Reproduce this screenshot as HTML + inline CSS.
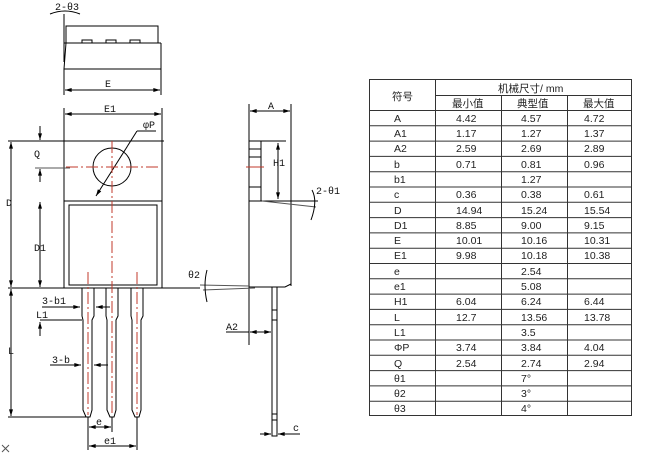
<!DOCTYPE html>
<html><head><meta charset="utf-8"><style>
html,body{margin:0;padding:0;background:#fff;}
svg{display:block;}
text{font-family:"Liberation Mono","DejaVu Sans Mono",monospace;font-size:10px;fill:#111;}
.t{font-family:"Liberation Sans","Noto Sans CJK SC",sans-serif;font-size:10.5px;fill:#222;}
</style></head><body>
<svg width="650" height="455" viewBox="0 0 650 455" xmlns="http://www.w3.org/2000/svg">
<defs>
<marker id="a" viewBox="0 0 10 6" refX="10" refY="3" markerWidth="7" markerHeight="4" orient="auto-start-reverse"><path d="M0,0L10,3L0,6z" fill="#000"/></marker>
</defs>
<g stroke="#000" stroke-width="1" fill="none">
<!-- top view -->
<line x1="64" y1="14" x2="64" y2="62"/>
<polyline points="66,43 66,26 158,26 158,43"/>
<line x1="64" y1="43" x2="161" y2="43"/>
<polyline points="66,43 64,69 161,69 161,43"/>
<rect x="82" y="40" width="10" height="3"/><rect x="106" y="40" width="10" height="3"/><rect x="130" y="40" width="10" height="3"/>
<line x1="64" y1="69" x2="64" y2="95"/><line x1="161" y1="69" x2="161" y2="95"/>
<line x1="65" y1="90" x2="160" y2="90" marker-start="url(#a)" marker-end="url(#a)"/>
<path d="M50,14 Q65,8 80,14"/>
<!-- front view -->
<line x1="64" y1="108" x2="64" y2="288"/><line x1="162" y1="108" x2="162" y2="288"/>
<line x1="65" y1="114" x2="161" y2="114" marker-start="url(#a)" marker-end="url(#a)"/>
<line x1="8" y1="141" x2="164" y2="141"/>
<circle cx="112" cy="167" r="19"/>
<line x1="96" y1="196" x2="137" y2="131" marker-start="url(#a)"/>
<line x1="137" y1="131" x2="156" y2="131"/>
<line x1="64" y1="201" x2="162" y2="201"/>
<rect x="69" y="205" width="88" height="80"/>
<line x1="8" y1="288" x2="200" y2="288"/>
<!-- Q, D1 -->
<line x1="40" y1="126" x2="40" y2="140" marker-end="url(#a)"/>
<line x1="35" y1="168" x2="70" y2="168" stroke="#555"/>
<line x1="40" y1="182" x2="40" y2="169" marker-end="url(#a)"/>
<line x1="40" y1="202" x2="40" y2="287" marker-start="url(#a)" marker-end="url(#a)"/>
<line x1="11" y1="142" x2="11" y2="287" marker-start="url(#a)" marker-end="url(#a)"/>
<line x1="11" y1="289" x2="11" y2="416" marker-start="url(#a)" marker-end="url(#a)"/>
<line x1="8" y1="417" x2="88" y2="417"/>
<!-- leads -->
<g>
<path d="M82,288V316L83,320V410L86,417H90L92,410V320L94,316V288"/>
<path d="M106,288V316L107,320V410L110,417H114L116,410V320L118,316V288"/>
<path d="M131,288V316L132,320V410L135,417H139L141,410V320L143,316V288"/>
</g>
<line x1="42" y1="307" x2="80" y2="307" marker-end="url(#a)"/>
<line x1="110" y1="307" x2="96" y2="307" marker-end="url(#a)"/>
<line x1="40" y1="320" x2="82" y2="320"/>
<line x1="40" y1="336" x2="40" y2="322" marker-end="url(#a)"/>
<line x1="50" y1="365" x2="81" y2="365" marker-end="url(#a)"/>
<line x1="108" y1="365" x2="94" y2="365" marker-end="url(#a)"/>
<line x1="88" y1="417" x2="88" y2="450"/><line x1="112" y1="417" x2="112" y2="432"/><line x1="137" y1="417" x2="137" y2="450"/>
<line x1="89" y1="427" x2="111" y2="427" marker-start="url(#a)" marker-end="url(#a)"/>
<line x1="89" y1="446" x2="136" y2="446" marker-start="url(#a)" marker-end="url(#a)"/>
<!-- side view -->
<line x1="249" y1="104" x2="249" y2="345"/><line x1="291" y1="104" x2="291" y2="286"/>
<line x1="250" y1="111" x2="290" y2="111" marker-start="url(#a)" marker-end="url(#a)"/>
<rect x="249" y="141" width="12" height="60"/>
<line x1="249" y1="149" x2="261" y2="149"/><line x1="249" y1="157" x2="261" y2="157"/><line x1="249" y1="187" x2="261" y2="187"/>
<line x1="261" y1="141" x2="286" y2="141"/>
<line x1="278" y1="143" x2="278" y2="199" marker-start="url(#a)" marker-end="url(#a)"/>
<line x1="249" y1="201" x2="318" y2="201"/>
<line x1="262" y1="201" x2="316" y2="207" stroke="#555"/>
<path d="M312,190 Q318,201 311,220"/>
<polyline points="249,287 285,287 291,284"/>
<line x1="200" y1="285" x2="249" y2="286" stroke="#555"/>
<line x1="203" y1="290" x2="255" y2="288" stroke="#555"/>
<path d="M207,270 Q203,285 207,302"/>
<rect x="272" y="287" width="5" height="149"/>
<line x1="272" y1="310" x2="277" y2="310"/><line x1="272" y1="320" x2="277" y2="320"/>
<line x1="272" y1="414" x2="277" y2="414"/><line x1="272" y1="420" x2="277" y2="420"/>
<line x1="226" y1="332" x2="249" y2="332"/>
<line x1="250" y1="332" x2="271" y2="332" marker-start="url(#a)" marker-end="url(#a)"/>
<line x1="260" y1="434" x2="271" y2="434" marker-end="url(#a)"/>
<line x1="300" y1="434" x2="278" y2="434" marker-end="url(#a)"/>
<path d="M2,445L9,452M9,445L2,452" stroke="#555"/>
</g>
<!-- red center lines -->
<g stroke="#c0392b" stroke-width="1" stroke-dasharray="12,3,2,3" fill="none">
<line x1="66" y1="167" x2="158" y2="167"/>
<line x1="112" y1="141" x2="112" y2="415"/>
<line x1="88" y1="272" x2="88" y2="415"/>
<line x1="137" y1="272" x2="137" y2="415"/>
<line x1="246" y1="167" x2="264" y2="167" stroke-dasharray="none"/>
</g>
<text x="55" y="10">2-θ3</text>
<text x="105" y="87">E</text>
<text x="104" y="112">E1</text>
<text x="143" y="128" font-size="9">φP</text>
<text x="34" y="157">Q</text>
<text x="6" y="206">D</text>
<text x="34" y="251">D1</text>
<text x="42" y="304">3-b1</text>
<text x="36" y="318">L1</text>
<text x="8" y="354">L</text>
<text x="52" y="363">3-b</text>
<text x="96" y="425">e</text>
<text x="104" y="444">e1</text>
<text x="268" y="109">A</text>
<text x="273" y="166">H1</text>
<text x="316" y="194">2-θ1</text>
<text x="188" y="278">θ2</text>
<text x="226" y="330">A2</text>
<text x="293" y="431">c</text>
<!-- table -->
<g stroke="#333" stroke-width="1" fill="none">
<rect x="369.5" y="79.5" width="262" height="336"/>
<line x1="435.5" y1="79.5" x2="435.5" y2="415.5"/>
<line x1="501.5" y1="95.5" x2="501.5" y2="415.5"/>
<line x1="567.5" y1="95.5" x2="567.5" y2="415.5"/>
<line x1="435.5" y1="95.5" x2="631.5" y2="95.5"/>
<path d="M369.5,110.5H631.5M369.5,125.8H631.5M369.5,141.1H631.5M369.5,156.4H631.5M369.5,171.7H631.5M369.5,187H631.5M369.5,202.3H631.5M369.5,217.6H631.5M369.5,232.9H631.5M369.5,248.2H631.5M369.5,263.5H631.5M369.5,278.8H631.5M369.5,294.1H631.5M369.5,309.4H631.5M369.5,324.7H631.5M369.5,340H631.5M369.5,355.3H631.5M369.5,370.6H631.5M369.5,385.9H631.5M369.5,401.2H631.5"/>
</g>
<g class="t">
<text class="t" x="392" y="100">符号</text>
<text class="t" x="498" y="92">机械尺寸/ mm</text>
<text class="t" x="452" y="107">最小值</text>
<text class="t" x="517" y="107">典型值</text>
<text class="t" x="583" y="107">最大值</text>
</g>
<g class="t">
<text class="t" x="394" y="122">A</text><text class="t" x="456" y="122">4.42</text><text class="t" x="521" y="122">4.57</text><text class="t" x="584" y="122">4.72</text>
<text class="t" x="394" y="137">A1</text><text class="t" x="456" y="137">1.17</text><text class="t" x="521" y="137">1.27</text><text class="t" x="584" y="137">1.37</text>
<text class="t" x="394" y="152">A2</text><text class="t" x="456" y="152">2.59</text><text class="t" x="521" y="152">2.69</text><text class="t" x="584" y="152">2.89</text>
<text class="t" x="394" y="168">b</text><text class="t" x="456" y="168">0.71</text><text class="t" x="521" y="168">0.81</text><text class="t" x="584" y="168">0.96</text>
<text class="t" x="394" y="183">b1</text><text class="t" x="521" y="183">1.27</text>
<text class="t" x="394" y="198">c</text><text class="t" x="456" y="198">0.36</text><text class="t" x="521" y="198">0.38</text><text class="t" x="584" y="198">0.61</text>
<text class="t" x="394" y="214">D</text><text class="t" x="456" y="214">14.94</text><text class="t" x="521" y="214">15.24</text><text class="t" x="584" y="214">15.54</text>
<text class="t" x="394" y="229">D1</text><text class="t" x="456" y="229">8.85</text><text class="t" x="521" y="229">9.00</text><text class="t" x="584" y="229">9.15</text>
<text class="t" x="394" y="244">E</text><text class="t" x="456" y="244">10.01</text><text class="t" x="521" y="244">10.16</text><text class="t" x="584" y="244">10.31</text>
<text class="t" x="394" y="259">E1</text><text class="t" x="456" y="259">9.98</text><text class="t" x="521" y="259">10.18</text><text class="t" x="584" y="259">10.38</text>
<text class="t" x="394" y="275">e</text><text class="t" x="521" y="275">2.54</text>
<text class="t" x="394" y="290">e1</text><text class="t" x="521" y="290">5.08</text>
<text class="t" x="394" y="305">H1</text><text class="t" x="456" y="305">6.04</text><text class="t" x="521" y="305">6.24</text><text class="t" x="584" y="305">6.44</text>
<text class="t" x="394" y="321">L</text><text class="t" x="456" y="321">12.7</text><text class="t" x="521" y="321">13.56</text><text class="t" x="584" y="321">13.78</text>
<text class="t" x="394" y="336">L1</text><text class="t" x="521" y="336">3.5</text>
<text class="t" x="394" y="351">ΦP</text><text class="t" x="456" y="351">3.74</text><text class="t" x="521" y="351">3.84</text><text class="t" x="584" y="351">4.04</text>
<text class="t" x="394" y="367">Q</text><text class="t" x="456" y="367">2.54</text><text class="t" x="521" y="367">2.74</text><text class="t" x="584" y="367">2.94</text>
<text class="t" x="394" y="382">θ1</text><text class="t" x="521" y="382">7°</text>
<text class="t" x="394" y="397">θ2</text><text class="t" x="521" y="397">3°</text>
<text class="t" x="394" y="412">θ3</text><text class="t" x="521" y="412">4°</text>
</g>
</svg>
</body></html>
